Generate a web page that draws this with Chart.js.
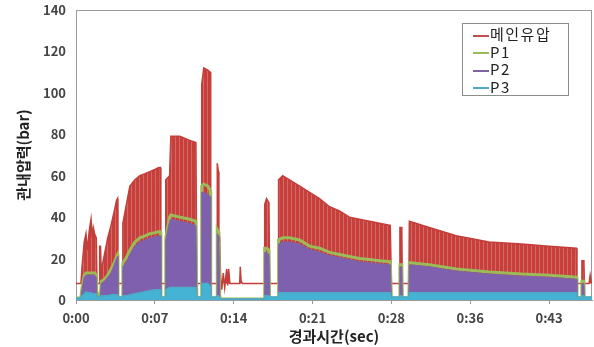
<!DOCTYPE html>
<html>
<head>
<meta charset="utf-8">
<script src="https://cdn.jsdelivr.net/npm/chart.js@4.4.0/dist/chart.umd.min.js"></script>
<style>
  body { margin: 0; background: #fff; }
  #wrap { position: relative; width: 594px; height: 347px; }
  #legend {
    position: absolute; left: 462px; top: 23px; width: 105px; height: 70px;
    border: 1px solid #8c8c8c; background: #fff; padding-top: 1px;
    font: 15px 'Noto Sans CJK KR', sans-serif; color: #222;
  }
  #legend div { height: 17.5px; line-height: 17.5px; padding-left: 10px; white-space: nowrap; letter-spacing: 1.5px; }
  #legend span { display: inline-block; width: 16px; height: 2px; vertical-align: middle; margin-right: 1px; }
</style>
</head>
<body>
<div id="wrap">
  <canvas id="chart" width="594" height="347"></canvas>
  <div id="legend"></div>
</div>
<script>
// time axis (seconds) and readings, grouped by pulse / gap
const seconds = [
  0.00, 0.45,
  0.55, 0.75, 0.91, 1.05, 1.20, 1.37, 1.48, 1.58, 1.70, 1.85, 1.91,
  1.92, 2.15, 2.16, 2.24,
  2.30, 2.60, 2.90, 3.20, 3.50, 3.70, 3.80,
  3.83, 4.26,
  4.28, 4.56, 4.92, 5.38, 5.83, 6.30, 6.74, 7.20, 7.56, 7.70,
  7.75, 8.18,
  8.20, 8.55, 8.66, 9.48, 10.39, 10.95,
  11.03, 11.45,
  11.48, 11.67, 12.03, 12.25,
  12.30, 12.88,
  12.90, 13.00, 13.05, 13.12,
  13.20, 13.31, 13.45, 13.58, 13.76, 13.85, 13.94, 14.05, 14.95, 15.00, 15.08, 15.20, 17.20,
  17.23, 17.40, 17.62,
  17.68, 18.48,
  18.50, 18.87, 19.50, 20.42, 21.33, 22.24, 23.15, 24.06, 24.97, 25.88, 26.80, 27.71, 28.70,
  28.80, 29.55, 29.58, 29.75, 29.80, 30.40,
  30.44, 32.26, 34.72, 37.73, 40.70, 43.20, 45.70,
  45.75, 46.15, 46.20, 46.38, 46.42, 46.85, 46.95, 47.05, 47.12
];
const mainPressure = [
  8, 8,
  16, 28, 32, 24, 33, 39, 30, 35, 32, 30, 30,
  8, 8, 26, 26,
  14, 22, 30, 36, 43, 48, 49,
  8, 8,
  37, 45, 55, 58, 60, 61, 62, 63, 64, 64,
  8, 8,
  58, 60, 79, 79, 77, 76,
  8, 8,
  104, 112, 111, 110,
  8, 8,
  66, 62, 33, 30,
  12, 5, 13, 6, 15, 7, 15, 8, 8, 16, 9, 8, 8,
  46, 49, 47,
  8, 8,
  58, 60, 58, 55, 52, 49, 45, 43, 40, 39, 38, 37, 36,
  8, 8, 35, 35, 8, 8,
  38, 35, 31, 28, 27, 26, 25,
  8, 8, 19, 19, 8, 8, 12, 9, 8
];
const p1 = [
  1, 1,
  6, 12, 13, 13, 13, 13, 13, 13, 13, 12, 12,
  1, 1, 3, 3,
  9, 10, 12, 15, 18, 21, 22,
  1, 1,
  18, 20, 24, 28, 30, 31, 32, 32.5, 33, 33,
  1, 1,
  30, 40, 41, 40, 39, 38,
  1, 1,
  55, 56, 55, 53,
  1, 1,
  34, 33, 30, 2,
  0.5, 0.5, 0.5, 0.5, 0.5, 0.5, 0.5, 0.5, 0.5, 0.5, 0.5, 0.5, 0.5,
  25, 25, 24,
  1, 1,
  29, 30, 30, 29, 26, 25, 23, 22, 21, 20, 19.5, 19, 18.5,
  1, 1, 17, 17, 1, 1,
  18, 17, 15, 13.5, 12.5, 12, 11,
  1, 1, 9, 9, 1, 1, 1, 1, 1
];
const p2 = [
  0.5, 0.5,
  5, 11, 12, 12, 12, 12, 12, 12, 12, 11, 11,
  1, 1, 2, 2,
  8, 9, 11, 13, 17, 20, 21,
  1, 1,
  16, 18, 22, 26, 28, 29, 30, 30.5, 31, 31,
  1, 1,
  29, 38, 39, 38, 37, 36,
  1, 1,
  52, 52, 51, 50,
  1, 1,
  32, 31, 28, 1,
  0.5, 0.5, 0.5, 0.5, 0.5, 0.5, 0.5, 0.5, 0.5, 0.5, 0.5, 0.5, 0.5,
  23, 23, 22,
  1, 1,
  27, 28, 28, 27, 24.5, 23, 21.5, 20.5, 19.5, 18.5, 18, 17.5, 17,
  1, 1, 16, 16, 1, 1,
  17, 16, 14, 12.5, 11.5, 11, 10,
  1, 1, 8, 8, 1, 1, 1, 1, 1
];
const p3 = [
  1, 1,
  2, 3, 4, 3.5, 3.5, 3.5, 3, 3, 3, 3, 3,
  1.5, 1.5, 1.5, 1.5,
  2, 2, 2, 2.5, 2.5, 2.5, 2.5,
  1.5, 1.5,
  2, 2, 2.5, 3, 3.5, 4, 4.5, 5, 5, 5,
  1.5, 1.5,
  5, 6, 6, 6, 6, 6,
  1.5, 1.5,
  8, 8, 8, 7,
  1.5, 1.5,
  2, 2, 2, 1,
  0.5, 0.5, 0.5, 0.5, 0.5, 0.5, 0.5, 0.5, 0.5, 0.5, 0.5, 0.5, 0.5,
  2, 2, 2,
  1.5, 1.5,
  3.5, 3.5, 3.5, 3.5, 3.5, 3.5, 3.5, 3.5, 3.5, 3.5, 3.5, 3.5, 3.5,
  1.5, 1.5, 2, 2, 1.5, 1.5,
  3.5, 3.5, 3.5, 3.5, 3.5, 3.5, 3.5,
  1.5, 1.5, 2, 2, 1.5, 1.5, 1.5, 1.5, 1.5
];
const seriesNames = ['메인유압', 'P1', 'P2', 'P3'];
const xTickSeconds = [0, 7.2, 14.4, 21.6, 28.8, 36, 43.2];
const xTickLabels = ['0:00', '0:07', '0:14', '0:21', '0:28', '0:36', '0:43'];

const colors = ['#C0504D', '#9BBB59', '#8064A2', '#4BACC6'];

// striped fill to mimic the dense pulse lines
function stripes(base, light) {
  const c = document.createElement('canvas');
  c.width = 4; c.height = 1;
  const g = c.getContext('2d');
  g.fillStyle = base; g.fillRect(0, 0, 3, 1);
  g.fillStyle = light; g.fillRect(3, 0, 1, 1);
  return g.createPattern(c, 'repeat');
}

const pts = arr => arr.map((v, i) => ({ x: seconds[i], y: v }));

const frame = {
  id: 'frame',
  beforeDatasetsDraw(chart) {
    const a = chart.chartArea, ctx = chart.ctx;
    ctx.save();
    ctx.strokeStyle = '#9a9a9a';
    ctx.lineWidth = 1;
    ctx.strokeRect(a.left + 0.5, a.top + 0.5, a.right - a.left - 1, a.bottom - a.top);
    ctx.restore();
  }
};

const tickFont = { family: "'Noto Sans CJK KR', sans-serif", size: 13, weight: 'bold' };
const titleFont = { family: "'Noto Sans CJK KR', sans-serif", size: 15, weight: 'bold' };

new Chart(document.getElementById('chart'), {
  type: 'line',
  data: {
    datasets: [
      { label: seriesNames[0], data: pts(mainPressure), borderColor: '#C43E3A',
        backgroundColor: stripes('#C73F3B', '#D36964'), borderWidth: 1.5,
        fill: { value: 8 }, order: 4 },
      { label: seriesNames[1], data: pts(p1), borderColor: colors[1],
        borderWidth: 3, fill: false, order: 3 },
      { label: seriesNames[2], data: pts(p2), borderColor: colors[2],
        backgroundColor: '#7E60AF', borderWidth: 1, fill: 'origin', order: 2 },
      { label: seriesNames[3], data: pts(p3), borderColor: colors[3],
        backgroundColor: '#45B3D3', borderWidth: 1.5, fill: 'origin', order: 1 }
    ]
  },
  options: {
    responsive: false,
    animation: false,
    elements: { point: { radius: 0 }, line: { tension: 0 } },
    layout: { padding: { top: 10, right: 2, left: 12, bottom: 0 } },
    plugins: { legend: { display: false }, tooltip: { enabled: false } },
    scales: {
      x: {
        type: 'linear', min: 0, max: 47.12,
        afterBuildTicks: s => { s.ticks = xTickSeconds.map(v => ({ value: v })); },
        afterFit: s => { s.height = 47; },
        grid: { display: true, drawOnChartArea: false, tickLength: 4, color: '#9a9a9a' },
        border: { display: true, color: '#9a9a9a' },
        ticks: { color: '#444', font: tickFont, padding: 6, maxRotation: 0,
                 callback: (v, i) => xTickLabels[i] },
        title: { display: true, text: '경과시간(sec)', color: '#222', font: titleFont,
                 padding: { top: 0, bottom: 2 } }
      },
      y: {
        min: 0, max: 140,
        afterFit: s => { s.width = 64; s.paddingTop = 0; s.paddingBottom = 0; },
        grid: { display: false, drawTicks: false },
        border: { display: true, color: '#9a9a9a' },
        ticks: { stepSize: 20, color: '#444', font: tickFont, padding: 10 },
        title: { display: true, text: '관내압력(bar)', color: '#222', font: titleFont,
                 padding: { top: 2, bottom: 2 } }
      }
    }
  },
  plugins: [frame]
});

const legend = document.getElementById('legend');
seriesNames.forEach((name, i) => {
  const row = document.createElement('div');
  row.innerHTML = '<span style="background:' + colors[i] + '"></span>' + name;
  legend.appendChild(row);
});
</script>
</body>
</html>
